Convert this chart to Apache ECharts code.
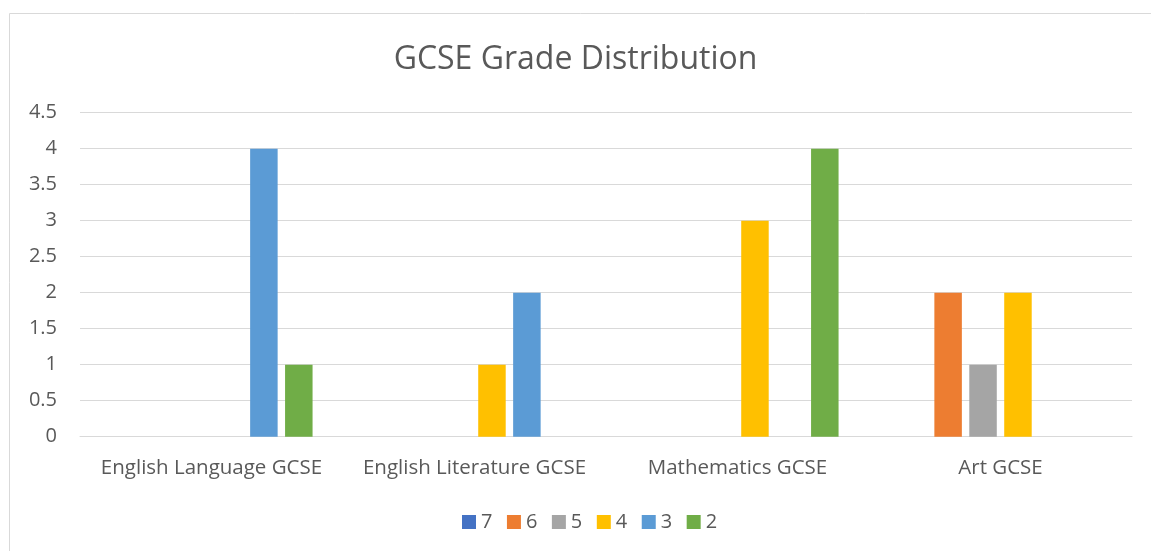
<!DOCTYPE html>
<html><head><meta charset="utf-8">
<script src="https://cdn.jsdelivr.net/npm/echarts@6/dist/echarts.min.js"></script>
<style>html,body{margin:0;padding:0;background:#fff}#c{width:1151px;height:551px}</style>
</head><body><div id="c"></div>
<script>
const categories = ['English Language GCSE', 'English Literature GCSE', 'Mathematics GCSE', 'Art GCSE'];
const seriesNames = ['7', '6', '5', '4', '3', '2'];
const grade7 = [0, 0, 0, 0];
const grade6 = [0, 0, 0, 2];
const grade5 = [0, 0, 0, 1];
const grade4 = [0, 1, 3, 2];
const grade3 = [4, 2, 0, 0];
const grade2 = [1, 0, 4, 0];
const yTicks = { min: 0, max: 4.5, interval: 0.5 };
const colors = ['#4472C4', '#ED7D31', '#A5A5A5', '#FFC000', '#5B9BD5', '#70AD47'];

const allData = [grade7, grade6, grade5, grade4, grade3, grade2];
const font = '"Open Sans", sans-serif';
const chart = echarts.init(document.getElementById('c'));
chart.setOption({
  animation: false,
  color: colors,
  title: { text: 'GCSE Grade Distribution', left: 'center', top: 39,
    textStyle: { fontFamily: font, fontSize: 32, fontWeight: 'normal', color: '#595959' } },
  grid: { left: 80, right: 19, top: 112.7, bottom: 114.3 },
  legend: { bottom: 14, left: 457, itemWidth: 14, itemHeight: 14, itemGap: 14.5,
    icon: 'rect', textStyle: { fontFamily: font, fontSize: 20, color: '#595959' },
    data: seriesNames },
  xAxis: { type: 'category', data: categories,
    axisLine: { lineStyle: { color: '#d9d9d9', width: 1 } }, axisTick: { show: false },
    axisLabel: { interval: 0, fontFamily: font, fontSize: 20.5, color: '#595959', margin: 21 } },
  yAxis: { type: 'value', min: yTicks.min, max: yTicks.max, interval: yTicks.interval,
    axisLine: { show: false }, axisTick: { show: false },
    splitLine: { lineStyle: { color: '#d9d9d9', width: 1 } },
    axisLabel: { fontFamily: font, fontSize: 20, color: '#595959', margin: 23 } },
  graphic: [
    { type: 'line', shape: { x1: 9.5, y1: 13.5, x2: 1151, y2: 13.5 }, style: { stroke: '#d9d9d9', lineWidth: 1 } },
    { type: 'line', shape: { x1: 9.5, y1: 13.5, x2: 9.5, y2: 551 }, style: { stroke: '#d9d9d9', lineWidth: 1 } }
  ],
  series: seriesNames.map((n, i) => ({
    name: n, type: 'bar', data: allData[i].map(v => v === 0 ? null : v),
    barWidth: 27.5, barGap: '27%'
  }))
});
</script></body></html>
